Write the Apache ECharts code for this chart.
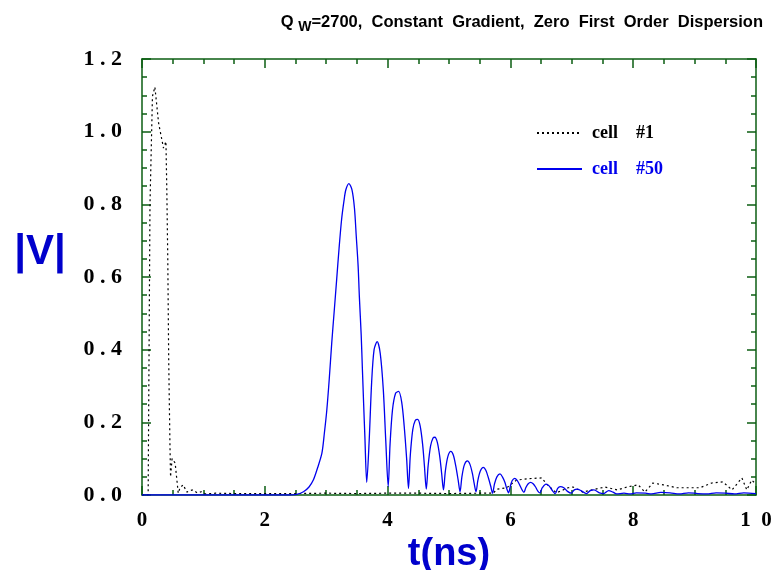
<!DOCTYPE html>
<html>
<head>
<meta charset="utf-8">
<script src="https://cdn.jsdelivr.net/npm/echarts@6/dist/echarts.min.js"></script>
<style>
html,body{margin:0;padding:0;background:#fff;}
#chart{width:781px;height:570px;}
</style>
</head>
<body>
<div id="chart"></div>
<script>
// ---- data ----
const seriesNames = ['cell    #1', 'cell    #50'];

const tCell1 = [0, 0.1, 0.13, 0.17, 0.21, 0.27, 0.35, 0.39, 0.405, 0.42, 0.435, 0.455, 0.465, 0.49, 0.54, 0.59, 0.62, 0.67, 0.73, 0.78, 0.83, 0.9, 0.97, 1.03, 1.2, 1.5, 2.0, 2.5, 3.0, 3.5, 4.0, 4.5, 5.0, 5.5, 5.72, 5.78, 5.94, 6.1, 6.3, 6.51, 6.59, 6.75, 6.94, 7.02, 7.18, 7.35, 7.54, 7.74, 7.9, 8.08, 8.19, 8.32, 8.49, 8.71, 8.89, 9.09, 9.28, 9.46, 9.61, 9.77, 9.85, 9.93, 10];
const vCell1 = [0, 0, 0.80, 1.097, 1.123, 1.024, 0.955, 0.973, 0.83, 0.647, 0.37, 0.14, 0.05, 0.10, 0.088, 0.005, 0.02, 0.028, 0.008, 0.012, 0.014, 0.006, 0.009, 0.003, 0.005, 0.004, 0.004, 0.004, 0.005, 0.004, 0.005, 0.005, 0.004, 0.005, 0.005, 0.016, 0.02, 0.041, 0.045, 0.047, 0.03, 0.006, 0.02, 0.022, 0.008, 0.015, 0.022, 0.014, 0.022, 0.028, 0.008, 0.033, 0.028, 0.02, 0.02, 0.02, 0.033, 0.036, 0.014, 0.047, 0.014, 0.041, 0.03];

const tCell50 = [0, 2.0, 2.4, 2.52, 2.63, 2.72, 2.79, 2.86, 2.93, 2.97, 3.01, 3.05, 3.09, 3.13, 3.17, 3.21, 3.25, 3.29, 3.32, 3.37, 3.42, 3.46, 3.49, 3.52, 3.54, 3.57, 3.59, 3.61, 3.63, 3.66,
  3.70, 3.74, 3.78, 3.83, 3.88, 3.93, 3.97, 4.01,
  4.04, 4.08, 4.13, 4.18, 4.23, 4.27, 4.31, 4.34,
  4.37, 4.41, 4.45, 4.49, 4.53, 4.57, 4.60, 4.63,
  4.66, 4.70, 4.74, 4.77, 4.81, 4.85, 4.88, 4.91,
  4.94, 4.98, 5.03, 5.07, 5.11, 5.15, 5.18,
  5.21, 5.25, 5.30, 5.34, 5.38, 5.41, 5.44,
  5.47, 5.51, 5.56, 5.60, 5.64, 5.68, 5.71,
  5.74, 5.78, 5.83, 5.87, 5.91, 5.94, 5.97,
  6.00, 6.03, 6.07, 6.11, 6.15, 6.19, 6.22,
  6.25, 6.29, 6.33, 6.37, 6.41, 6.45, 6.48,
  6.52, 6.58, 6.63, 6.68, 6.73,
  6.77, 6.81, 6.87, 6.93, 6.99,
  7.04, 7.09, 7.15, 7.24, 7.30, 7.36, 7.45, 7.52, 7.60, 7.67, 7.73, 7.85, 7.95, 8.05, 8.20, 8.30, 8.45, 8.60, 8.75, 8.90, 9.05, 9.20, 9.35, 9.50, 9.65, 9.80, 10];
const vCell50 = [0, 0, 0, 0.002, 0.009, 0.022, 0.041, 0.075, 0.115, 0.17, 0.234, 0.32, 0.418, 0.505, 0.592, 0.68, 0.757, 0.81, 0.84, 0.857, 0.84, 0.79, 0.711, 0.63, 0.546, 0.44, 0.344, 0.25, 0.16, 0.035,
  0.15, 0.31, 0.40, 0.422, 0.39, 0.29, 0.15, 0.023,
  0.14, 0.235, 0.28, 0.285, 0.255, 0.19, 0.10, 0.018,
  0.11, 0.18, 0.205, 0.208, 0.19, 0.14, 0.08, 0.016,
  0.08, 0.135, 0.157, 0.159, 0.145, 0.105, 0.06, 0.014,
  0.065, 0.105, 0.12, 0.11, 0.08, 0.04, 0.009,
  0.05, 0.083, 0.094, 0.085, 0.06, 0.032, 0.009,
  0.04, 0.066, 0.076, 0.068, 0.048, 0.024, 0.005,
  0.03, 0.05, 0.058, 0.05, 0.035, 0.018, 0.006,
  0.025, 0.04, 0.046, 0.04, 0.028, 0.014, 0.007,
  0.02, 0.031, 0.035, 0.031, 0.022, 0.01, 0.006,
  0.02, 0.03, 0.025, 0.013, 0.004,
  0.018, 0.023, 0.02, 0.01, 0.005,
  0.014, 0.016, 0.012, 0.004, 0.012, 0.014, 0.006, 0.004, 0.012, 0.008, 0.003, 0.005, 0.003, 0.006, 0.005, 0.003, 0.007, 0.006, 0.003, 0.006, 0.004, 0.003, 0.006, 0.005, 0.003, 0.006, 0.004];

const xTickValues = [0, 2, 4, 6, 8, 10];
const xTickLabels = ['0', '2', '4', '6', '8', '1  0'];
const yTickValues = [0, 0.2, 0.4, 0.6, 0.8, 1.0, 1.2];
const yTickLabels = ['0 . 0', '0 . 2', '0 . 4', '0 . 6', '0 . 8', '1 . 0', '1 . 2'];

// ---- chart ----
const frame = '#0b5e12';
const pair = (t, v) => t.map((x, i) => [x, v[i]]);
const labelFor = (vals, labels) => (val) => {
  const i = vals.findIndex(x => Math.abs(x - val) < 1e-6);
  return i >= 0 ? labels[i] : '';
};
const serif = '"Liberation Serif", "Times New Roman", serif';
const sans = '"Liberation Sans", Arial, sans-serif';

const axisCommon = () => ({
  axisLine: { show: true, onZero: false, lineStyle: { color: frame, width: 1.5 } },
  splitLine: { show: false },
  axisTick: { show: true, inside: true, length: 9, lineStyle: { color: frame, width: 1.5 } },
  minorTick: { show: true, splitNumber: 4, length: 5, lineStyle: { color: frame, width: 1.5 } }
});

const chart = echarts.init(document.getElementById('chart'), null, { renderer: 'canvas' });
chart.setOption({
  animation: false,
  backgroundColor: '#fff',
  title: {
    text: 'Q {sub|W}=2700,  Constant  Gradient,  Zero  First  Order  Dispersion',
    right: 13, top: 6,
    textStyle: {
      fontFamily: sans, fontWeight: 'bold', fontSize: 16.5, color: '#000',
      rich: { sub: { fontFamily: sans, fontWeight: 'bold', fontSize: 14, color: '#000', padding: [9, 0, 0, 0] } }
    }
  },
  legend: {
    orient: 'vertical', left: 536, top: 124, padding: 0, itemWidth: 45, itemHeight: 16, itemGap: 18,
    itemStyle: { opacity: 0 },
    textStyle: { fontFamily: serif, fontWeight: 'bold', fontSize: 18, padding: [0, 0, 0, 5] },
    data: [
      { name: seriesNames[0], textStyle: { color: '#000' } },
      { name: seriesNames[1], textStyle: { color: '#0000ee' } }
    ]
  },
  grid: { left: 142, right: 25, top: 59, bottom: 75, containLabel: false, outerBoundsMode: 'none' },
  xAxis: [
    Object.assign({
      type: 'value', min: 0, max: 10, interval: 2, position: 'bottom',
      name: 't(ns)', nameLocation: 'middle', nameGap: 48,
      nameTextStyle: { fontFamily: sans, fontWeight: 'bold', fontSize: 38, color: '#0000cc', verticalAlign: 'middle' },
      axisLabel: { show: true, margin: 15, fontFamily: serif, fontWeight: 'bold', fontSize: 21, color: '#000',
        formatter: labelFor(xTickValues, xTickLabels) }
    }, axisCommon()),
    Object.assign({
      type: 'value', min: 0, max: 10, interval: 2, position: 'top',
      axisLabel: { show: false }
    }, axisCommon())
  ],
  yAxis: [
    Object.assign({
      type: 'value', min: 0, max: 1.2, interval: 0.2, position: 'left',
      name: '|V|\n', nameLocation: 'middle', nameGap: 102, nameRotate: 0,
      nameTextStyle: { fontFamily: sans, fontWeight: 'bold', fontSize: 42, lineHeight: 50, color: '#0000cc', align: 'center', verticalAlign: 'middle' },
      axisLabel: { show: true, margin: 20, fontFamily: serif, fontWeight: 'bold', fontSize: 22, color: '#000',
        formatter: labelFor(yTickValues, yTickLabels) }
    }, axisCommon()),
    Object.assign({
      type: 'value', min: 0, max: 1.2, interval: 0.2, position: 'right',
      axisLabel: { show: false }
    }, axisCommon())
  ],
  series: [
    {
      name: seriesNames[0], type: 'line', xAxisIndex: 0, yAxisIndex: 0,
      data: pair(tCell1, vCell1), symbol: 'none', smooth: false,
      lineStyle: { color: '#000', width: 1.2, type: [2, 3] },
      itemStyle: { color: '#000' }
    },
    {
      name: seriesNames[1], type: 'line', xAxisIndex: 0, yAxisIndex: 0,
      data: pair(tCell50, vCell50), symbol: 'none', smooth: 0.3,
      lineStyle: { color: '#0000ee', width: 1.3 },
      itemStyle: { color: '#0000ee' }
    }
  ]
});
</script>
</body>
</html>
